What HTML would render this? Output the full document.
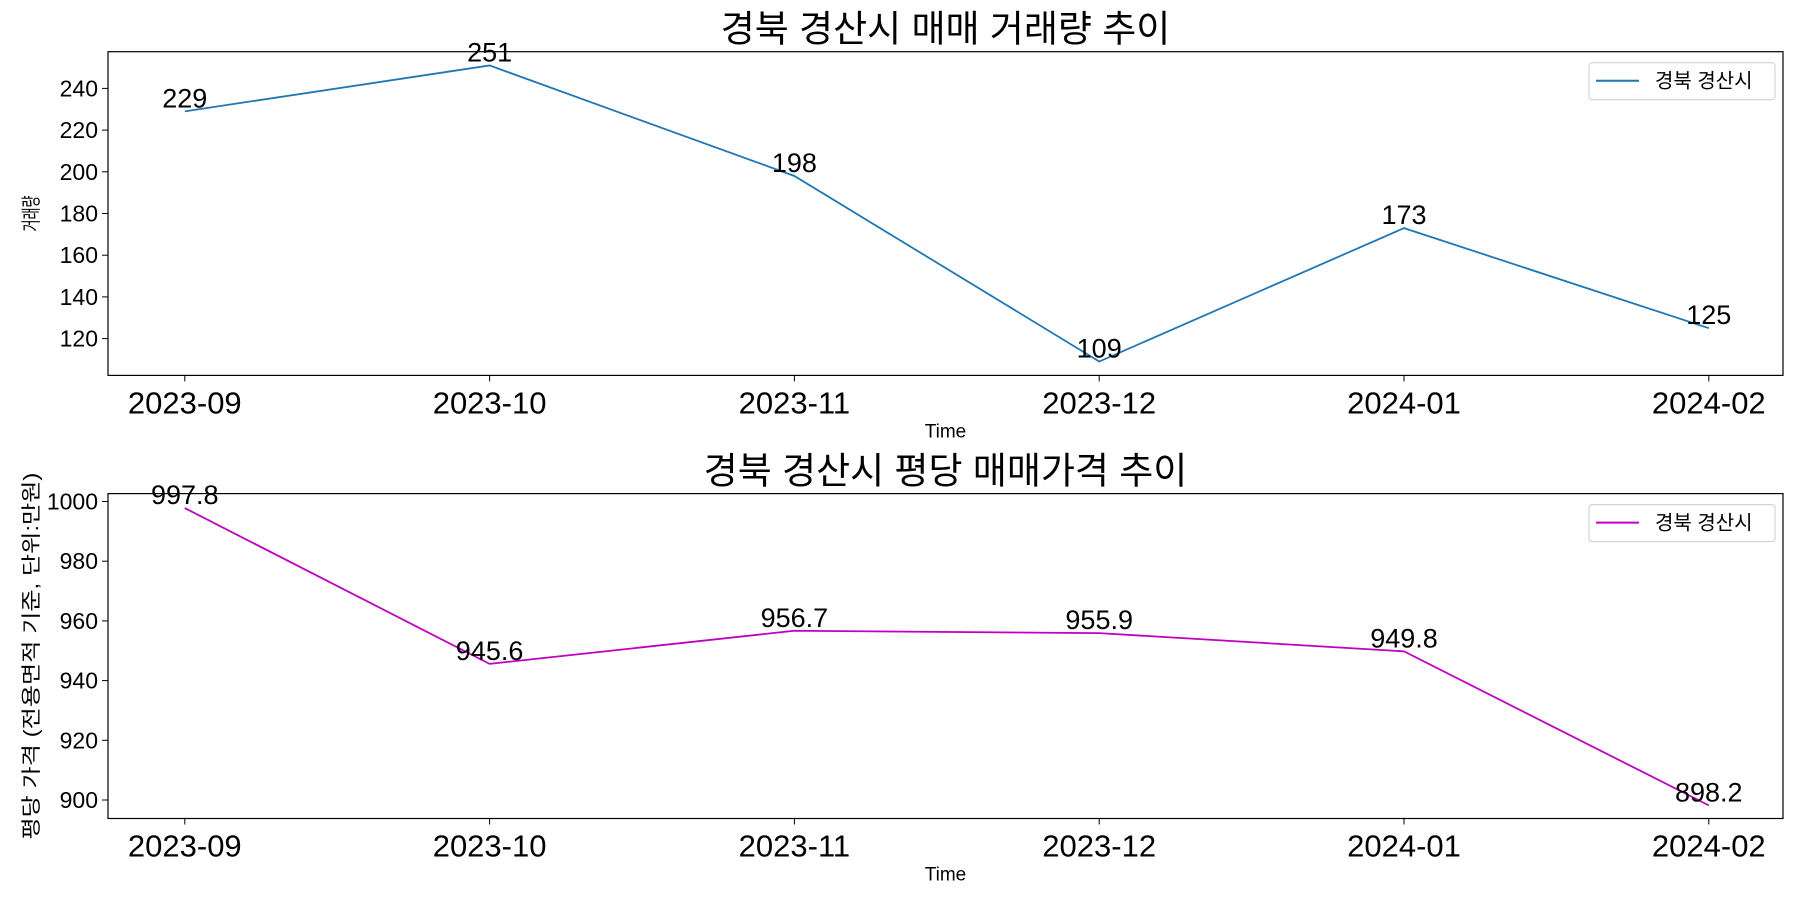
<!DOCTYPE html>
<html><head><meta charset="utf-8"><style>
body{margin:0;background:#fff}
svg text{font-family:"Liberation Sans","Noto Sans CJK KR",sans-serif;fill:#000}
</style></head><body>
<svg id="chart" width="1800" height="900" xmlns="http://www.w3.org/2000/svg"></svg>
<script>
const categories=["2023-09","2023-10","2023-11","2023-12","2024-01","2024-02"];
const volumeValues=[229,251,198,109,173,125];
const priceValues=[997.8,945.6,956.7,955.9,949.8,898.2];
const volumeTicks=[120,140,160,180,200,220,240];
const priceTicks=[900,920,940,960,980,1000];
const volumeLabels=["229","251","198","109","173","125"];
const priceLabels=["997.8","945.6","956.7","955.9","949.8","898.2"];

const svg=document.getElementById('chart');
const NS="http://www.w3.org/2000/svg";
function mk(tag,attrs,parent){const e=document.createElementNS(NS,tag);for(const k in attrs)e.setAttribute(k,attrs[k]);(parent||svg).appendChild(e);return e;}
const L=108,R=1783;
function xPos(i){return 184.8+i*304.8;}

function panel(o){
  const g=mk('g',{});
  
  
  const yPos=v=>o.y0+(v-o.v0)*o.k;
  const t=mk('text',{x:(L+R)/2,y:o.top-10,'text-anchor':'middle','font-size':37},g);
  t.textContent=o.title;
  
  
  const fr=mk('rect',{x:L,y:o.top,width:R-L,height:o.bot-o.top,fill:'none',stroke:'#000','stroke-width':1.2},g);
  
  
  o.ticks.forEach(v=>{
    const y=yPos(v);
    mk('line',{x1:L-6,x2:L,y1:y,y2:y,stroke:'#000'},g);
    const tx=mk('text',{x:L-10,y:y+8,'text-anchor':'end','font-size':23},g);
    tx.textContent=v;
    
    
  });
  categories.forEach((c,i)=>{
    const x=xPos(i);
    mk('line',{x1:x,x2:x,y1:o.bot,y2:o.bot+6,stroke:'#000'},g);
    const tx=mk('text',{x:x,y:o.bot+38,'text-anchor':'middle','font-size':31},g);
    tx.textContent=c;
    
    
  });
  const xl=mk('text',{x:(L+R)/2,y:o.bot+62,'text-anchor':'middle','font-size':19},g);
  xl.textContent='Time';
  
  
  const cy=(o.top+o.bot)/2;
  const yl=mk('text',{x:38,y:cy,'text-anchor':'middle','font-size':20,textLength:o.ylen,lengthAdjust:'spacingAndGlyphs',transform:`rotate(-90 38 ${cy})`},g);
  yl.textContent=o.ylabel;
  
  
  const pts=o.values.map((v,i)=>xPos(i)+','+yPos(v)).join(' ');
  const pl=mk('polyline',{points:pts,fill:'none',stroke:o.color,'stroke-width':1.8},g);
  
  
  o.values.forEach((v,i)=>{
    const tx=mk('text',{x:xPos(i),y:yPos(v)-4,'text-anchor':'middle','font-size':27},g);
    tx.textContent=o.labels[i];
    
    
  });
  const lg=mk('g',{},g);
  
  
  mk('rect',{x:1589,y:o.top+11,width:186,height:37,rx:3,fill:'#fff',stroke:'#ccc'},lg);
  mk('line',{x1:1596,x2:1639,y1:o.top+29,y2:o.top+29,stroke:o.color,'stroke-width':2},lg);
  const lt=mk('text',{x:1655,y:o.top+36,'font-size':20},lg);
  lt.textContent='경북 경산시';
  
  
}
panel({name:'volume-panel',title:'경북 경산시 매매 거래량 추이',top:51.7,bot:375.4,v0:240,y0:88.4,k:-41.7/20,ticks:volumeTicks,values:volumeValues,labels:volumeLabels,color:'#1f77b4',ylabel:'거래량',ylen:36});
panel({name:'price-panel',title:'경북 경산시 평당 매매가격 추이',top:493.6,bot:818.5,v0:900,y0:800,k:-2.985,ticks:priceTicks,values:priceValues,labels:priceLabels,color:'#bf00bf',ylabel:'평당 가격 (전용면적 기준, 단위:만원)',ylen:367});
</script>
</body></html>
